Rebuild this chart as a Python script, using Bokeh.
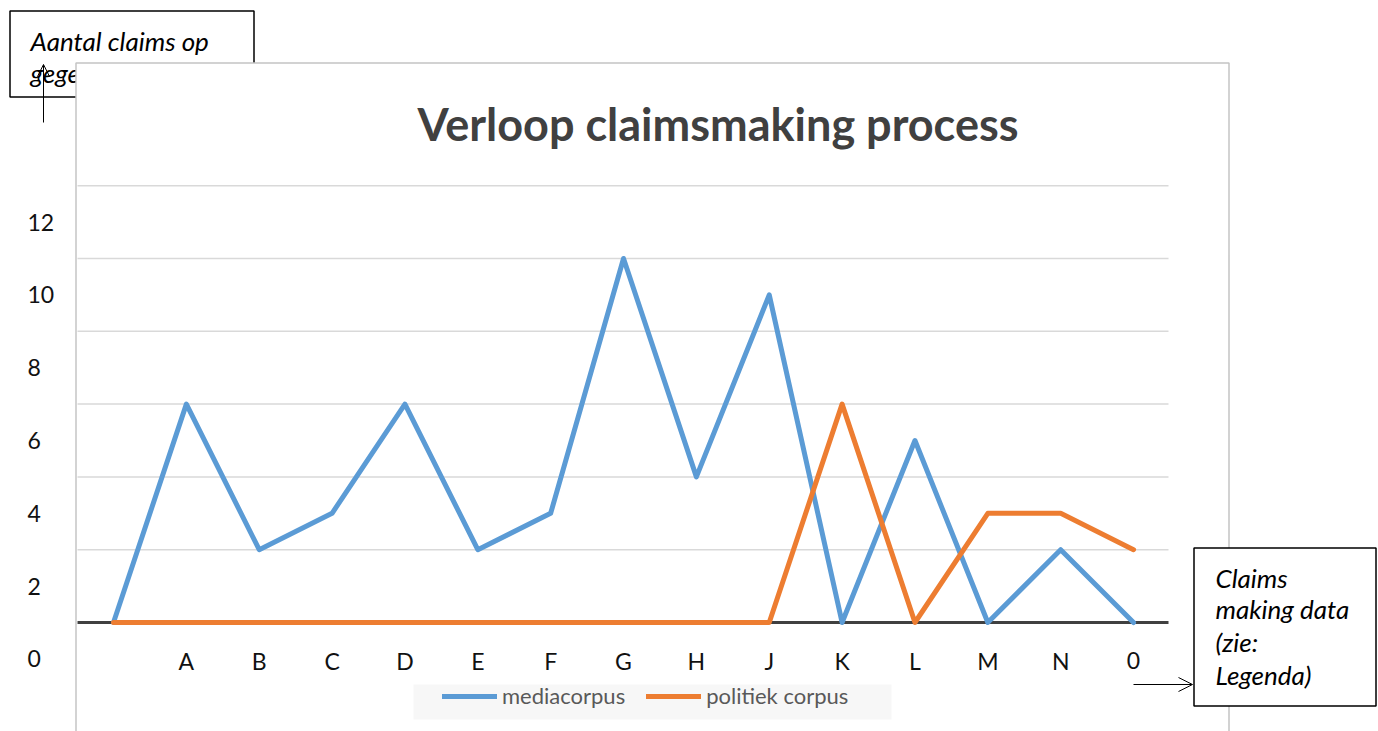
from bokeh.plotting import figure
from bokeh.models import Range1d, Arrow, OpenHead, Legend, LegendItem, ColumnDataSource
from bokeh.core.properties import value
from bokeh.embed import file_html
from bokeh.resources import INLINE

# ---- data ----
categories = ["", "A", "B", "C", "D", "E", "F", "G", "H", "J", "K", "L", "M", "N", "0"]
mediacorpus = [1, 7, 3, 4, 7, 3, 4, 11, 5, 10, 1, 6, 1, 3, 1]
politiek_corpus = [1, 1, 1, 1, 1, 1, 1, 1, 1, 1, 7, 1, 4, 4, 3]
y_tick_labels = [0, 2, 4, 6, 8, 10, 12]
grid_values = [3, 5, 7, 9, 11, 13]
baseline_value = [1]

# ---- layout helpers (page pixel -> data) ----
W, H = 1378, 731
OX, OY = 0, 0
X_FIRST, X_STEP = 113.0, 72.86
Y_BASE, Y_STEP = 622.0, 36.4


def dx(px):
    return (px - X_FIRST) / X_STEP


def dy(py):
    return 1 + (Y_BASE - py) / Y_STEP


FONT = "Lato"

p = figure(width=W, height=H, output_backend="svg", toolbar_location=None,
           x_range=Range1d(dx(OX), dx(OX + W)), y_range=Range1d(dy(OY + H), dy(OY)),
           x_axis_location=None, y_axis_location=None, min_border=0,
           outline_line_color=None)
p.grid.visible = False

# top-left note box (behind chart area)
p.quad(left=[dx(9.5)], right=[dx(253.5)], top=[dy(10.5)], bottom=[dy(96.5)],
       fill_color="white", line_color="black", line_width=1.5)
p.text(x=[dx(30), dx(30)], y=[dy(40), dy(72)], text=["Aantal claims op", "gegevensbron"],
       text_font=value(FONT), text_font_style="italic", text_font_size="26px",
       text_color="black", text_baseline="middle", text_align="left")

# chart area
p.quad(left=[dx(75.5)], right=[dx(1228.5)], top=[dy(62.5)], bottom=[dy(760)],
       fill_color="white", line_color="#c4c4c4", line_width=1.5)

# title
p.text(x=[dx(717.5)], y=[dy(123)], text=["Verloop claimsmaking process"],
       text_font=value(FONT), text_font_style="bold", text_font_size="45px",
       text_color="#404040", text_baseline="middle", text_align="center")

# gridlines
p.segment(x0=[dx(77)] * len(grid_values), x1=[dx(1168)] * len(grid_values),
          y0=grid_values, y1=grid_values, line_color="#d9d9d9", line_width=1.5)
# baseline
p.segment(x0=[dx(77)], x1=[dx(1168)], y0=baseline_value, y1=baseline_value,
          line_color="#404040", line_width=3)

# y tick labels (outside chart frame)
p.text(x=[dx(27)] * len(y_tick_labels), y=y_tick_labels, text=[str(v) for v in y_tick_labels],
       text_font=value(FONT), text_font_size="23px", text_color="#111111",
       text_baseline="middle", text_align="left")

# x category labels
idx = list(range(len(categories)))
p.text(x=idx, y=[dy(660)] * len(idx), text=categories,
       text_font=value(FONT), text_font_size="23px", text_color="#111111",
       text_baseline="middle", text_align="center")

# series
src = ColumnDataSource(dict(x=idx, m=mediacorpus, pc=politiek_corpus))
r1 = p.line("x", "m", source=src, line_color="#5b9bd5", line_width=5,
            line_join="round", line_cap="round")
r2 = p.line("x", "pc", source=src, line_color="#ed7d31", line_width=5,
            line_join="round", line_cap="round")

# legend background
p.quad(left=[dx(413)], right=[dx(891)], top=[dy(684)], bottom=[dy(719)],
       fill_color="#f7f7f7", line_color=None)

legend = Legend(items=[LegendItem(label="mediacorpus", renderers=[r1]),
                       LegendItem(label="politiek corpus", renderers=[r2])],
                orientation="horizontal", location=(442, 22),
                glyph_width=55, glyph_height=22, label_standoff=5, spacing=21,
                padding=4, margin=0, background_fill_alpha=0, border_line_color=None,
                label_text_font=FONT, label_text_font_size="22px",
                label_text_color="#595959")
p.add_layout(legend)

# right note box
p.quad(left=[dx(1193.5)], right=[dx(1375.5)], top=[dy(547.5)], bottom=[dy(705.5)],
       fill_color="white", line_color="black", line_width=1.5)
p.text(x=[dx(1215)] * 4, y=[dy(577), dy(608), dy(641), dy(674)],
       text=["Claims", "making data", "(zie:", "Legenda)"],
       text_font=value(FONT), text_font_style="italic", text_font_size="26px",
       text_color="black", text_baseline="middle", text_align="left")

# arrows
p.add_layout(Arrow(end=OpenHead(size=12, line_width=1, line_color="black"),
                   x_start=dx(43), y_start=dy(122), x_end=dx(43), y_end=dy(64),
                   line_width=1, line_color="black"))
p.add_layout(Arrow(end=OpenHead(size=14, line_width=1, line_color="black"),
                   x_start=dx(1133), y_start=dy(684), x_end=dx(1192), y_end=dy(684),
                   line_width=1, line_color="black"))

open("out.html", "w").write(file_html(p, INLINE))
